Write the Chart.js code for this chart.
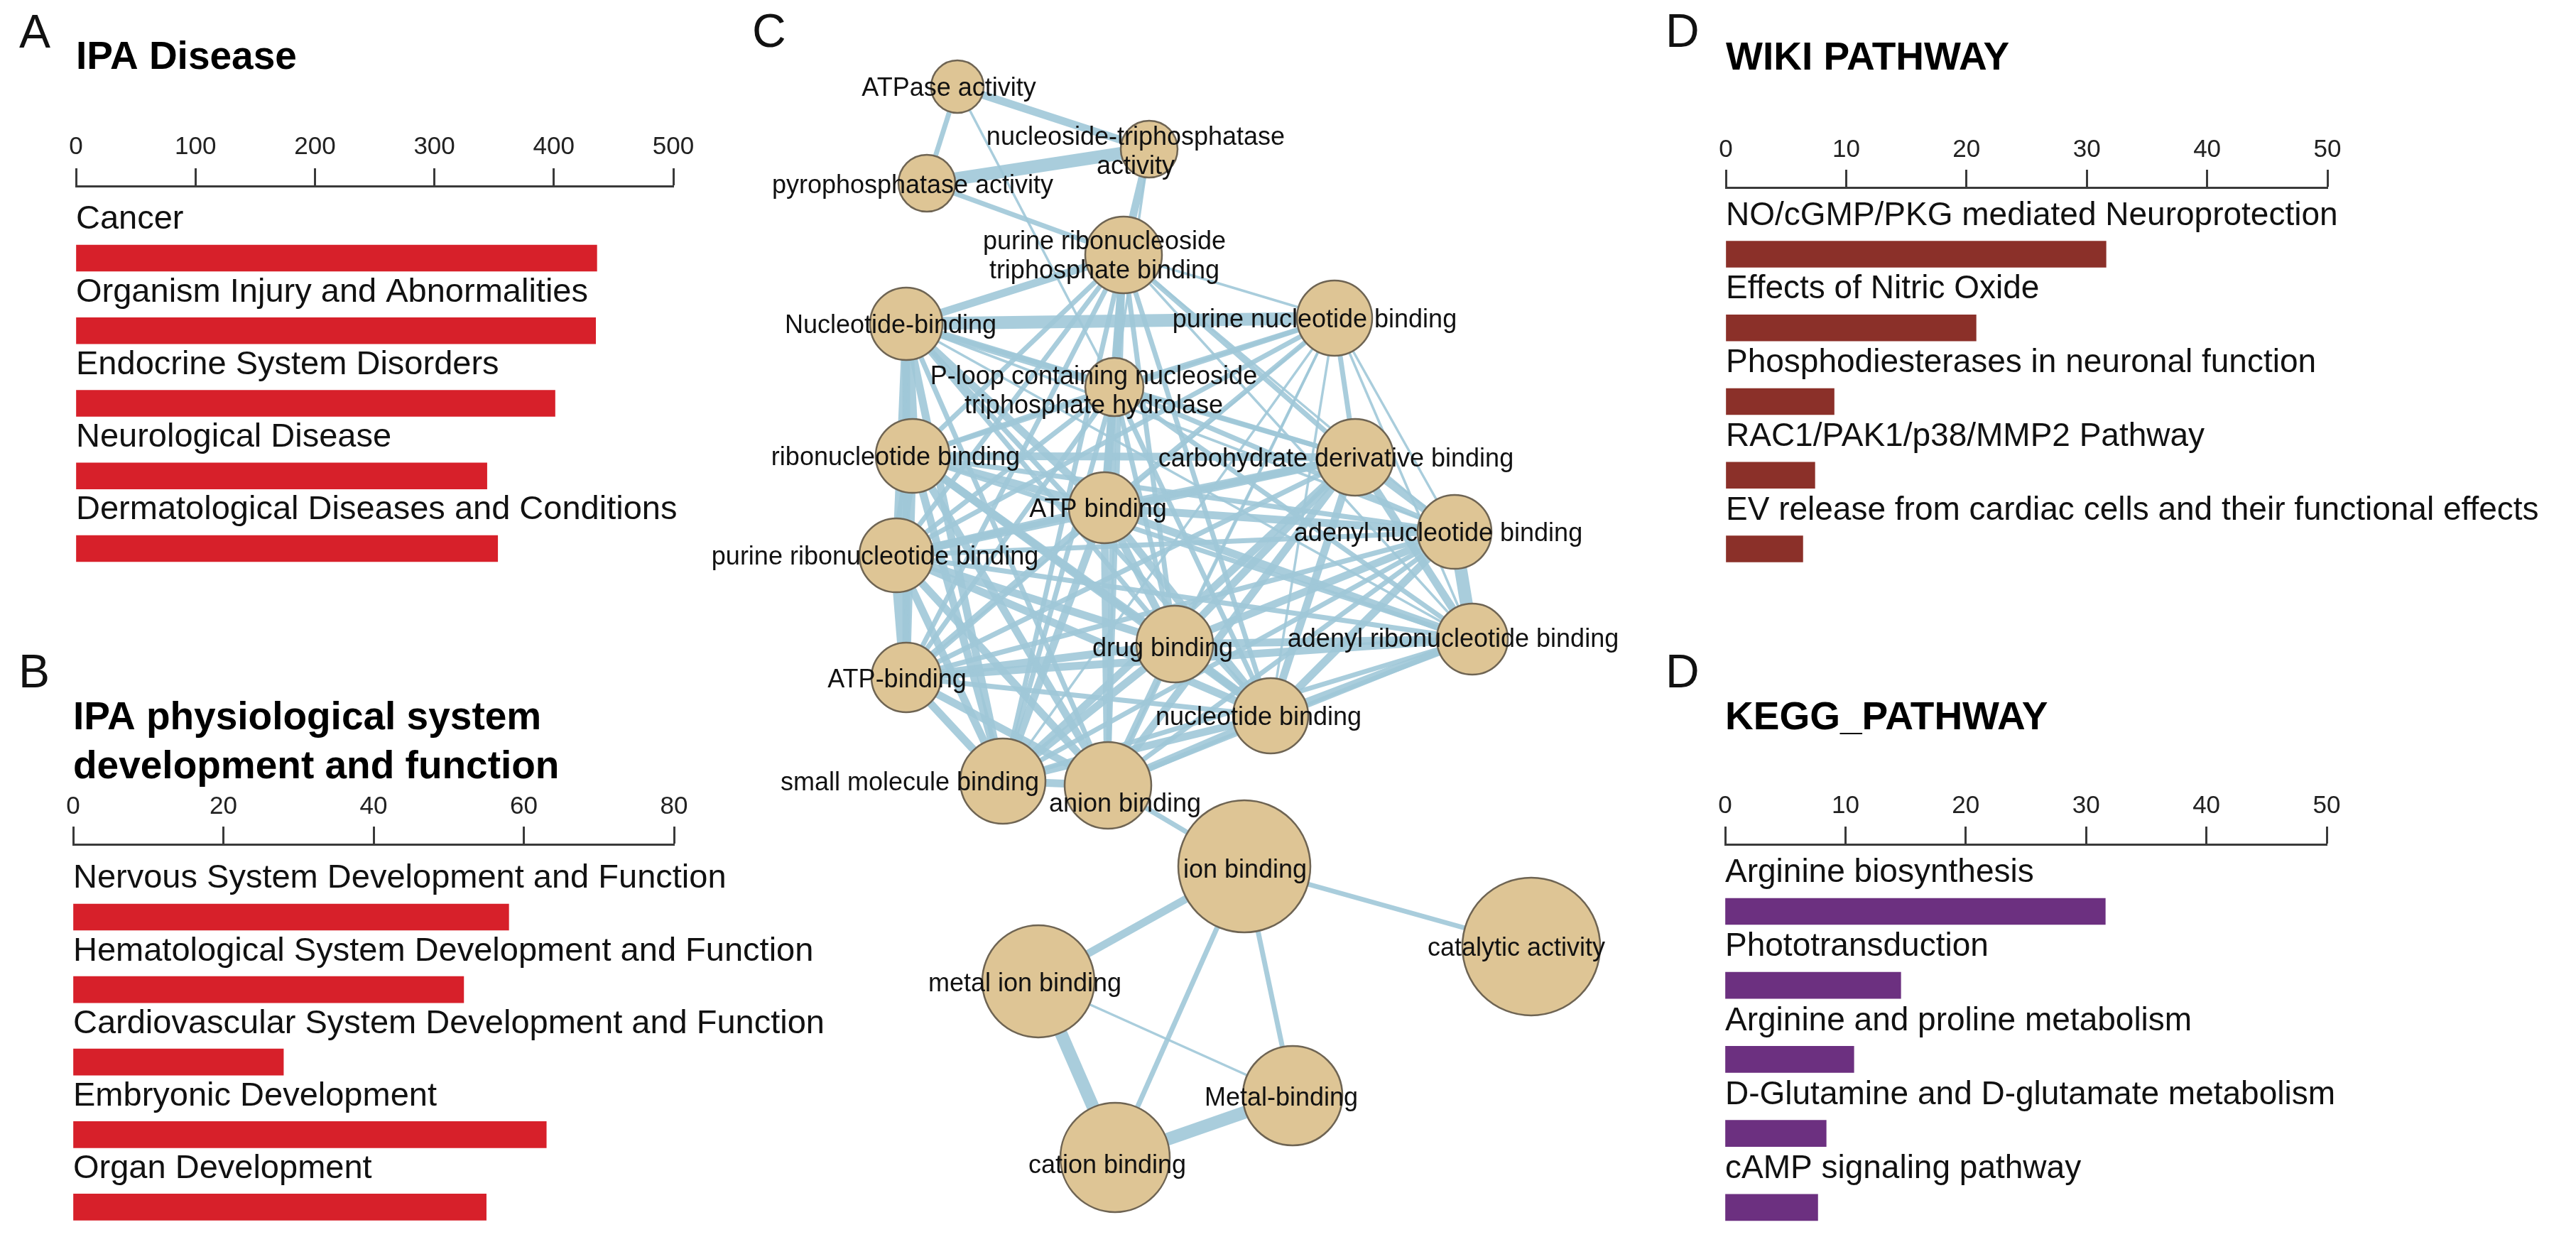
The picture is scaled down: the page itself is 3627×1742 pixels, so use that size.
<!DOCTYPE html>
<html><head><meta charset="utf-8">
<script src="https://cdn.jsdelivr.net/npm/chart.js@4.4.1/dist/chart.umd.min.js"></script>
<style>
html,body{margin:0;padding:0;background:#fff;}
body{width:3627px;height:1742px;position:relative;overflow:hidden;font-family:"Liberation Sans",Arial,Helvetica,sans-serif;}
canvas{position:absolute;}
.lt{position:absolute;font-size:66px;line-height:1;color:#111;font-family:"Liberation Sans",Arial,Helvetica,sans-serif;}
</style></head><body>
<canvas id="cNet"></canvas>
<canvas id="cA"></canvas>
<canvas id="cB"></canvas>
<canvas id="cW"></canvas>
<canvas id="cK"></canvas>
<div class="lt" style="left:27px;top:11px">A</div>
<div class="lt" style="left:26px;top:912px">B</div>
<div class="lt" style="left:1059px;top:10px">C</div>
<div class="lt" style="left:2345px;top:10px">D</div>
<div class="lt" style="left:2345px;top:912px">D</div>
<script>
// ---------------- DATA ----------------
const ipaDiseaseCategories = ['Cancer', 'Organism Injury and Abnormalities', 'Endocrine System Disorders', 'Neurological Disease', 'Dermatological Diseases and Conditions'];
const ipaDiseaseValues = [436, 435, 401, 344, 353];
const ipaDiseaseTicks = [0, 100, 200, 300, 400, 500];

const ipaPhysioCategories = ['Nervous System Development and Function', 'Hematological System Development and Function', 'Cardiovascular System Development and Function', 'Embryonic Development', 'Organ Development'];
const ipaPhysioValues = [58, 52, 28, 63, 55];
const ipaPhysioTicks = [0, 20, 40, 60, 80];

const wikiCategories = ['NO/cGMP/PKG mediated Neuroprotection', 'Effects of Nitric Oxide', 'Phosphodiesterases in neuronal function', 'RAC1/PAK1/p38/MMP2 Pathway', 'EV release from cardiac cells and their functional effects'];
const wikiValues = [31.6, 20.8, 9.0, 7.4, 6.4];
const wikiTicks = [0, 10, 20, 30, 40, 50];

const keggCategories = ['Arginine biosynthesis', 'Phototransduction', 'Arginine and proline metabolism', 'D-Glutamine and D-glutamate metabolism', 'cAMP signaling pathway'];
const keggValues = [31.6, 14.6, 10.7, 8.4, 7.7];
const keggTicks = [0, 10, 20, 30, 40, 50];

// Network (panel C): GO terms, layout coordinates (layout units), node size (layout units)
const goTerms = ['ATPase activity', 'nucleoside-triphosphatase\nactivity', 'pyrophosphatase activity',
  'purine ribonucleoside\ntriphosphate binding', 'Nucleotide-binding', 'purine nucleotide binding',
  'P-loop containing nucleoside\ntriphosphate hydrolase', 'ribonucleotide binding', 'carbohydrate derivative binding',
  'ATP binding', 'adenyl nucleotide binding', 'purine ribonucleotide binding', 'drug binding',
  'adenyl ribonucleotide binding', 'ATP-binding', 'nucleotide binding', 'small molecule binding',
  'anion binding', 'ion binding', 'catalytic activity', 'metal ion binding', 'Metal-binding', 'cation binding'];
const goX = [34.8, 61.8, 30.5, 58.2, 27.6, 87.9, 56.9, 28.5, 90.8, 55.5, 104.8, 26.2, 65.4, 107.3, 27.6, 78.9, 41.2, 56.0, 75.2, 115.6, 46.2, 82.0, 57.0];
const goY = [12.2, 21.0, 25.8, 35.9, 45.6, 44.8, 54.5, 64.2, 64.4, 71.5, 74.9, 78.2, 90.7, 90.0, 95.4, 100.8, 110.0, 110.6, 122.0, 133.3, 138.2, 154.3, 163.0];
const goSize = [3.7, 4.0, 4.0, 5.4, 5.1, 5.3, 4.1, 5.2, 5.4, 5.0, 5.2, 5.2, 5.4, 5.0, 4.9, 5.3, 6.0, 6.1, 9.3, 9.7, 7.9, 7.0, 7.7];
// edges: [from, to, similarity weight class]
const goEdges = [
[0,1,3],[0,2,2],[1,2,4],[1,3,3],[2,3,2],[0,6,1],[1,6,1],[3,5,1],
[3,4,3],[3,6,3],[3,9,3],[3,7,2],[3,11,2],[3,12,2],[3,8,2],[3,10,1],[3,13,1],[3,14,2],[3,15,2],[3,16,2],[3,17,2],
[4,5,4],[4,7,4],[4,11,3],[4,14,3],[4,6,3],[4,9,3],[4,12,2],[4,15,2],[4,16,3],[4,17,2],[4,8,2],[4,10,1],[4,13,1],
[5,6,2],[5,7,2],[5,8,2],[5,9,2],[5,10,1],[5,11,2],[5,12,1],[5,13,1],[5,14,1],[5,15,1],[5,16,1],[5,17,1],
[6,7,2],[6,8,2],[6,9,3],[6,10,2],[6,11,2],[6,12,2],[6,13,2],[6,14,2],[6,15,2],[6,16,2],[6,17,2],
[7,11,4],[7,14,3],[7,9,3],[7,8,3],[7,10,2],[7,12,3],[7,13,2],[7,15,3],[7,16,3],[7,17,3],
[8,9,3],[8,10,3],[8,11,3],[8,12,3],[8,13,3],[8,14,2],[8,15,3],[8,16,3],[8,17,3],
[9,10,3],[9,11,3],[9,12,3],[9,13,3],[9,14,3],[9,15,3],[9,16,3],[9,17,3],
[10,11,2],[10,12,3],[10,13,4],[10,14,2],[10,15,3],[10,16,2],[10,17,2],
[11,12,3],[11,13,2],[11,14,4],[11,15,3],[11,16,3],[11,17,3],
[12,13,3],[12,14,3],[12,15,3],[12,16,3],[12,17,3],
[13,14,3],[13,15,3],[13,16,2],[13,17,2],
[14,15,2],[14,16,3],[14,17,3],
[15,16,3],[15,17,3],
[16,17,3],
[17,18,2],[18,19,2],[18,20,3],[18,22,2],[18,21,2],[20,22,4],[20,21,1],[22,21,4]
];

// ---------------- STYLE / LAYOUT ----------------
const FONT = '"Liberation Sans", Arial, Helvetica, sans-serif';
Chart.defaults.font.family = FONT;
const labelOffsetX = [-1.2, -1.9, -2.0, -2.7, -2.2, -2.8, -2.9, -2.4, -2.7, -0.9, -2.3, -3.0, -1.7, -2.7, -1.3, -1.7, -13.1, 2.4, 0.1, -2.1, -1.9, -1.6, -1.1];
const labelOffsetY = [0.3, 0.45, 0.4, 0.3, 0.3, 0.3, 0.7, 0.3, 0.3, 0.3, 0.3, 0.3, 0.7, 0.1, 0.4, 0.3, 0.3, 2.7, 0.6, 0.3, 0.4, 0.4, 1.2];
const edgeWidth = {1: 3.5, 2: 7, 3: 11, 4: 18};

const barLabelPlugin = {
  id: 'barLabels',
  afterDatasetsDraw(chart, args, opts) {
    const {ctx, chartArea} = chart;
    const meta = chart.getDatasetMeta(0);
    ctx.save();
    ctx.font = opts.size + 'px ' + FONT;
    ctx.fillStyle = '#111';
    ctx.textBaseline = 'middle';
    ctx.textAlign = 'left';
    meta.data.forEach((bar, i) => ctx.fillText(opts.labels[i], chartArea.left, bar.y + opts.offset));
    ctx.restore();
  }
};

function setupCanvas(id, left, top, w, h) {
  const c = document.getElementById(id);
  c.width = w; c.height = h;
  c.style.left = left + 'px'; c.style.top = top + 'px';
  c.style.width = w + 'px'; c.style.height = h + 'px';
  return c;
}

function barPanel(id, L) {
  const canvas = setupCanvas(id, L.left, L.top, L.width, L.height);
  const titleLH = 69;
  const padLeft = 30, padBottom = 10;
  const titlePadTop = L.titleMid - L.top - titleLH / 2;
  const titleBoxH = titlePadTop + titleLH * L.title.length;
  const axisBoxH = L.axisY - L.top - titleBoxH;
  const tickPad = L.axisY - 25 - 21 - L.tickMid;
  const areaBottom = L.top + L.height - padBottom;
  const yMin = -(L.firstCenter - L.axisY) / L.pitch;
  const yMax = yMin + (areaBottom - L.axisY) / L.pitch;
  const padRight = L.left + L.width - L.areaRight;
  const chart = new Chart(canvas, {
    type: 'bar',
    data: { datasets: [{ data: L.values.map((v, i) => ({x: v, y: i})), backgroundColor: L.color, barThickness: 37, borderWidth: 0 }] },
    options: {
      indexAxis: 'y', responsive: false, animation: false, devicePixelRatio: 1,
      layout: { autoPadding: false, padding: { left: padLeft, right: padRight, top: 0, bottom: padBottom } },
      plugins: {
        legend: { display: false }, tooltip: { enabled: false },
        title: { display: true, text: L.title, align: 'start', color: '#000',
          font: { size: 55, weight: 'bold', lineHeight: titleLH / 55 }, padding: { top: titlePadTop, bottom: 0 } },
        barLabels: { labels: L.categories, offset: -54, size: L.labelSize }
      },
      scales: {
        x: { type: 'linear', position: 'top', min: L.ticks[0], max: L.ticks[L.ticks.length - 1],
          afterBuildTicks: s => { s.ticks = L.ticks.map(v => ({value: v})); },
          afterFit: s => { s.height = axisBoxH; },
          ticks: { color: '#222', font: { size: 35 }, padding: tickPad, maxRotation: 0, autoSkip: false },
          grid: { display: true, drawOnChartArea: false, drawTicks: true, tickLength: 25, tickColor: '#3a3a3a', tickWidth: 3 },
          border: { display: true, color: '#3a3a3a', width: 3 } },
        y: { type: 'linear', reverse: true, offset: false, grace: 0, bounds: 'data', min: yMin, max: yMax, display: false }
      }
    },
    plugins: [barLabelPlugin]
  });
  // fine-tune the index scale so category centres land on the intended pitch
  for (let k = 0; k < 4; k++) {
    const ys = chart.scales.y;
    const p0 = ys.getPixelForValue(0), p1 = ys.getPixelForValue(1);
    const pc = p1 - p0;
    if (!isFinite(pc) || pc <= 0) break;
    const range = ys.max - ys.min;
    const newMin = ys.min + (p0 - (L.firstCenter - L.top)) / pc;
    const newMax = newMin + range * pc / L.pitch;
    if (Math.abs(p0 - (L.firstCenter - L.top)) < 0.3 && Math.abs(pc - L.pitch) < 0.05) break;
    chart.options.scales.y.min = newMin;
    chart.options.scales.y.max = newMax;
    chart.update('none');
  }
  return chart;
}

barPanel('cA', { left: 77, top: 0, width: 931, height: 840, areaRight: 948, labelSize: 47,
  title: ['IPA Disease'], titleMid: 82, axisY: 262, tickMid: 207.5, firstCenter: 363.5, pitch: 102.25,
  categories: ipaDiseaseCategories, values: ipaDiseaseValues, ticks: ipaDiseaseTicks, color: '#D7202A' });
barPanel('cB', { left: 73, top: 880, width: 1127, height: 862, areaRight: 949, labelSize: 47,
  title: ['IPA physiological system', 'development and function'], titleMid: 1012, axisY: 1189, tickMid: 1136, firstCenter: 1291.5, pitch: 102.1,
  categories: ipaPhysioCategories, values: ipaPhysioValues, ticks: ipaPhysioTicks, color: '#D7202A' });
barPanel('cW', { left: 2400, top: 0, width: 1227, height: 840, areaRight: 3277, labelSize: 46,
  title: ['WIKI PATHWAY'], titleMid: 83, axisY: 264, tickMid: 211.5, firstCenter: 358, pitch: 103.75,
  categories: wikiCategories, values: wikiValues, ticks: wikiTicks, color: '#8B3029' });
barPanel('cK', { left: 2399, top: 880, width: 1228, height: 862, areaRight: 3276, labelSize: 46,
  title: ['KEGG_PATHWAY'], titleMid: 1012, axisY: 1189, tickMid: 1135, firstCenter: 1283.5, pitch: 104.2,
  categories: keggCategories, values: keggValues, ticks: keggTicks, color: '#6C3080' });

// ---------------- NETWORK ----------------
(function () {
  const W = 1350, H = 1742, xMin = -2, xMax = 133, yMin = 0, yMax = 174.2;
  const canvas = setupCanvas('cNet', 980, 0, W, H);
  const pxPerUnit = W / (xMax - xMin);
  const nodeData = goTerms.map((t, i) => ({x: goX[i], y: goY[i], r: goSize[i] * pxPerUnit}));
  const edgeSets = goEdges.map(([a, b, w]) => ({
    type: 'line', order: 1,
    data: [{x: goX[a], y: goY[a]}, {x: goX[b], y: goY[b]}],
    borderColor: 'rgba(160,200,216,0.9)', borderWidth: edgeWidth[w],
    pointRadius: 0, pointHoverRadius: 0, fill: false, tension: 0, borderCapStyle: 'butt', clip: false
  }));
  const nodeLabelPlugin = {
    id: 'nodeLabels',
    afterDatasetsDraw(chart) {
      const {ctx, scales} = chart;
      ctx.save();
      ctx.font = '36px ' + FONT;
      ctx.fillStyle = '#111';
      ctx.textAlign = 'center';
      ctx.textBaseline = 'middle';
      goTerms.forEach((t, i) => {
        const lines = t.split('\n');
        const cx = scales.x.getPixelForValue(goX[i] + labelOffsetX[i]);
        const cy = scales.y.getPixelForValue(goY[i] + labelOffsetY[i]);
        const lh = 41;
        lines.forEach((ln, k) => ctx.fillText(ln, cx, cy + (k - (lines.length - 1) / 2) * lh));
      });
      ctx.restore();
    }
  };
  new Chart(canvas, {
    type: 'bubble',
    data: { datasets: [{ type: 'bubble', order: 0, data: nodeData, backgroundColor: '#DEC595',
      borderColor: '#6E6453', borderWidth: 2.5, hoverRadius: 0, clip: false }].concat(edgeSets) },
    options: {
      responsive: false, animation: false, devicePixelRatio: 1,
      layout: { autoPadding: false, padding: 0 },
      plugins: { legend: { display: false }, tooltip: { enabled: false } },
      events: [],
      scales: {
        x: { type: 'linear', min: xMin, max: xMax, display: false, offset: false },
        y: { type: 'linear', min: yMin, max: yMax, reverse: true, display: false, offset: false }
      }
    },
    plugins: [nodeLabelPlugin]
  });
})();
</script>
</body></html>
